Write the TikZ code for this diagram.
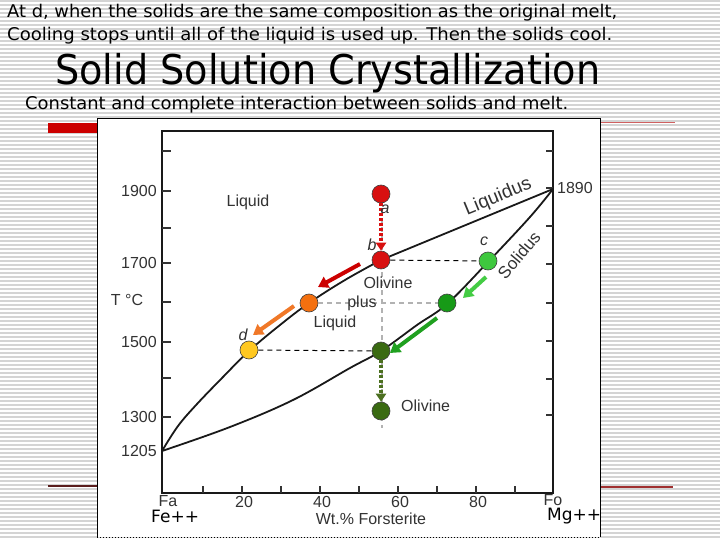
\documentclass[tikz,border=0pt]{standalone}
\usepackage{fontspec}
\usepackage{graphicx}
\setmainfont{DejaVu Sans}
\newfontfamily\arialf{Liberation Sans}
\usetikzlibrary{arrows.meta}
\definecolor{stripe}{HTML}{D4D4D4}
\definecolor{barred}{HTML}{CC0000}
\definecolor{plotgray}{HTML}{333333}
\definecolor{cred}{HTML}{D81010}
\definecolor{corange}{HTML}{F4700F}
\definecolor{cyellow}{HTML}{FFC820}
\definecolor{clgreen}{HTML}{3EC83E}
\definecolor{cmgreen}{HTML}{179A17}
\definecolor{cdgreen}{HTML}{3A6A12}
\definecolor{aorange}{HTML}{F07828}
\definecolor{algreen}{HTML}{44CC44}
\definecolor{amgreen}{HTML}{1FA01F}
\definecolor{adgreen}{HTML}{4C7020}
\tikzset{
  dot/.style={circle, minimum size=18pt, inner sep=0pt, draw=black!75, line width=0.6pt},
  plab/.style={font=\arialf\fontsize{16}{18}\selectfont, text=plotgray, inner sep=0pt},
  ilab/.style={font=\arialf\itshape\fontsize{16}{18}\selectfont, text=plotgray, inner sep=0pt},
  bigarrow/.style={line width=4pt, -{Triangle[length=10pt,width=12pt]}},
  dotarrow/.style={line width=3.4pt, dash pattern=on 3pt off 2pt, -{Triangle[length=8pt,width=10pt]}},
  curve/.style={line width=1.8pt, black!90},
  bdash/.style={line width=1pt, black, dash pattern=on 5pt off 4pt},
  gdash/.style={line width=1.5pt, black!30, dash pattern=on 5pt off 4pt},
  toptext/.style={anchor=base west, inner sep=0pt},
}
\begin{document}
\begin{tikzpicture}[x=1pt,y=-1pt]
\useasboundingbox (0,0) rectangle (720,540);
\fill[white] (0,0) rectangle (720,540);
\foreach \i in {0,...,134} \draw[stripe, line width=1.5pt] (0,{0.8+4*\i}) -- (720,{0.8+4*\i});
% decorative red lines
\fill[barred] (48,123) rectangle (97,133);
\draw[line width=1pt, color={rgb,255:red,208;green,96;blue,96}] (600,123) -- (675,123);
\draw[line width=1.2pt, color={rgb,255:red,90;green,30;blue,30}] (48,486) -- (97,486);
\draw[line width=1.2pt, color={rgb,255:red,160;green,48;blue,48}] (600,487) -- (673,487);
% top texts
\node[toptext] (t1) at (7,18) {\resizebox{610pt}{\height}{\fontsize{17.5}{20}\selectfont At d, when the solids are the same composition as the original melt,}};
\node[toptext] (t2) at (7,41) {\resizebox{605pt}{\height}{\fontsize{17.5}{20}\selectfont Cooling stops until all of the liquid is used up. Then the solids cool.}};
\node[toptext] (title) at (55,85) {\resizebox{545pt}{\height}{\fontsize{41}{48}\selectfont Solid Solution Crystallization}};
\node[toptext] (sub) at (25,110) {\resizebox{543pt}{\height}{\fontsize{17.5}{20}\selectfont Constant and complete interaction between solids and melt.}};
% figure box
\fill[white] (97,119) rectangle (600,537);
\draw[line width=1pt] (97,537) -- (97,119) -- (600,119) -- (600,537);
\draw[line width=1pt, dotted] (97,537) -- (600,537);
% plot frame
\draw[line width=2pt, black!90] (162,131) rectangle (553,493);
\foreach \y in {151,191,228,263,302,342,378,417} \draw[line width=1.2pt, black!80] (162,\y) -- (171,\y);
\foreach \y in {151,188,226,264,303,341,379,415} \draw[line width=1.2pt, black!80] (553,\y) -- (546,\y);
\foreach \k in {0,...,8} \draw[line width=1.2pt, black!80] ({203+39*\k},493) -- ({203+39*\k},486);
% curves
\draw[curve] plot[smooth, tension=0.6] coordinates {(162,451) (178,426) (197,404) (223,377) (249,351) (280,325) (309,303) (345,280) (381,260)} -- (553,189);
\draw[curve] plot[smooth, tension=0.6] coordinates {(162,451) (230,427) (293,400) (350,368) (381,351) (417,325) (447,304) (488,262) (530,217) (553,189)};
% points
\coordinate (vtop) at (382,200);
\coordinate (vbot) at (382,428);
\draw[gdash] (vtop) -- (vbot);
\node[dot, fill=cred] (a) at (381,194) {};
\node[dot, fill=cred] (b) at (381,260) {};
\node[dot, fill=corange] (o) at (309,303) {};
\node[dot, fill=cyellow] (d) at (249,350) {};
\node[dot, fill=clgreen] (c) at (488,261) {};
\node[dot, fill=cmgreen] (m) at (447,303) {};
\node[dot, fill=cdgreen] (g) at (381,351) {};
\node[dot, fill=cdgreen] (s) at (381,411) {};
% dashed tie lines
\draw[bdash] (b) -- (c);
\draw[gdash] (o) -- (m);
\draw[bdash] (d) -- (g);
% arrows
\draw[dotarrow, cred] (a) -- (b);
\coordinate (r1) at (360,264); \coordinate (r2) at (318,287);
\draw[bigarrow, barred] (r1) -- (r2);
\coordinate (o1) at (294,306); \coordinate (o2) at (253,335);
\draw[bigarrow, aorange] (o1) -- (o2);
\coordinate (l1) at (486,277); \coordinate (l2) at (463,298);
\draw[bigarrow, algreen] (l1) -- (l2);
\coordinate (m1) at (437,318); \coordinate (m2) at (390,353);
\draw[bigarrow, amgreen] (m1) -- (m2);
\draw[dotarrow, adgreen] (g) -- (s);
% labels inside plot
\node[plab] (liq) at (248,202) {Liquid};
\node[plab, font=\arialf\fontsize{19}{21}\selectfont, rotate=22.5] (liqus) at (498,197) {Liquidus};
\node[plab, font=\arialf\fontsize{17}{19}\selectfont, rotate=50] (solus) at (519,255) {Solidus};
\node[ilab] (la) at (385,209) {a};
\node[ilab] (lb) at (372,245) {b};
\node[ilab] (lc) at (484,241) {c};
\node[ilab] (ld) at (243,335) {d};
\node[plab] (ol1) at (388,283) {Olivine};
\node[plab] (plus) at (362,303) {plus};
\node[plab] (liq2) at (335,323) {Liquid};
\node[plab, anchor=west] (ol2) at (401,406) {Olivine};
% axis labels
\node[plab, anchor=east] (y1900) at (157,191) {1900};
\node[plab, anchor=east] (y1700) at (157,263) {1700};
\node[plab, anchor=east] (y1500) at (157,342) {1500};
\node[plab, anchor=east] (y1300) at (157,417) {1300};
\node[plab, anchor=east] (y1205) at (157,451) {1205};
\node[plab] (tc) at (127,300) {T \textdegree C};
\node[plab, anchor=west] (y1890) at (557,188) {1890};
\node[plab] (xfa) at (168,501) {Fa};
\node[plab] (x20) at (244,502) {20};
\node[plab] (x40) at (322,502) {40};
\node[plab] (x60) at (400,502) {60};
\node[plab] (x80) at (478,502) {80};
\node[plab] (xfo) at (553,500) {Fo};
\node[plab] (xlab) at (371,519) {Wt.\% Forsterite};
\node[anchor=west, inner sep=0pt, font=\fontsize{17}{20}\selectfont] (fe) at (151,516) {Fe++};
\node[anchor=west, inner sep=0pt, font=\fontsize{17}{20}\selectfont] (mg) at (547,516) {Mg++};
\end{tikzpicture}
\end{document}
